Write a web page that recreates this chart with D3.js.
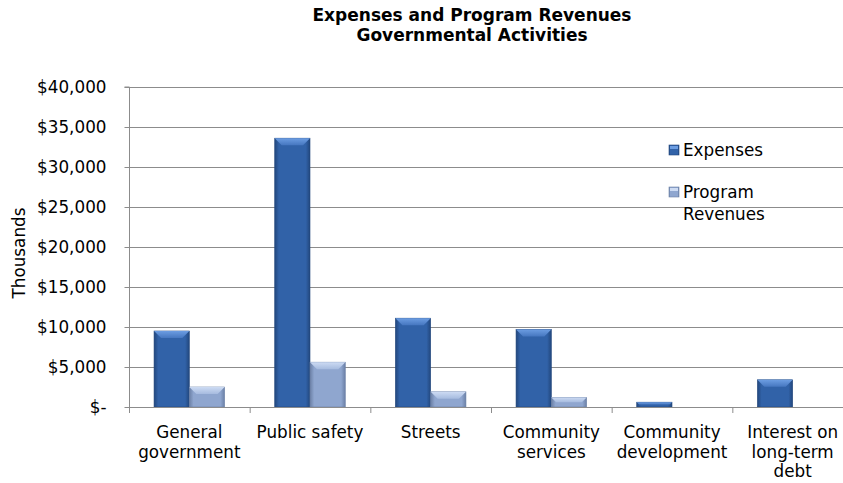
<!doctype html>
<html>
  <head>
    <meta charset="utf-8">
    <title>Expenses and Program Revenues</title>
    <style>
      body { margin: 0; background: #fff; }
      text { font-family: "DejaVu Sans", Verdana, sans-serif; fill: #000; }
    </style>
    <script src="https://cdnjs.cloudflare.com/ajax/libs/d3/7.8.5/d3.min.js"></script>
  </head>
  <body>
    <div id="chart"></div>
    <script>
      // values in thousands of dollars
      const categories = [
        ["General", "government"],
        ["Public safety"],
        ["Streets"],
        ["Community", "services"],
        ["Community", "development"],
        ["Interest on", "long-term", "debt"]
      ];
      const seriesNames = ["Expenses", "Program Revenues"];
      const expenses = [9500, 33600, 11100, 9700, 600, 3400];
      const programRevenues = [2500, 5600, 1900, 1200, 0, 0];
      const yTicks = [0, 5000, 10000, 15000, 20000, 25000, 30000, 35000, 40000];

      const width = 843, height = 483;
      const plotLeft = 129, plotRight = 853, plotTop = 87, plotBottom = 407;
      const fontSize = "16.8px";

      const svg = d3.select("#chart").append("svg")
        .attr("width", width)
        .attr("height", height);

      const defs = svg.append("defs");
      const palette = {
        "Expenses": { edge: "#22477d", mid: "#3162a8", top: "#6c9de2", topEdge: "#4677c0" },
        "Program Revenues": { edge: "#6b80a6", mid: "#8fa6cf", top: "#cddbf3", topEdge: "#a6bbdf" }
      };
      seriesNames.forEach((s, i) => {
        const g = defs.append("linearGradient").attr("id", "body" + i)
          .attr("x1", 0).attr("x2", 1).attr("y1", 0).attr("y2", 0);
        g.append("stop").attr("offset", 0).attr("stop-color", palette[s].edge);
        g.append("stop").attr("offset", 0.12).attr("stop-color", palette[s].mid);
        g.append("stop").attr("offset", 0.88).attr("stop-color", palette[s].mid);
        g.append("stop").attr("offset", 1).attr("stop-color", palette[s].edge);
        const t = defs.append("linearGradient").attr("id", "top" + i)
          .attr("x1", 0).attr("x2", 0).attr("y1", 0).attr("y2", 1);
        t.append("stop").attr("offset", 0).attr("stop-color", palette[s].top);
        t.append("stop").attr("offset", 1).attr("stop-color", palette[s].topEdge);
      });

      const x0 = d3.scaleBand().domain(d3.range(categories.length)).range([plotLeft, plotRight]);
      const x1 = d3.scaleBand().domain(seriesNames).range([0, x0.bandwidth()])
        .paddingInner(0).paddingOuter(0.71);
      const y = d3.scaleLinear().domain([0, 40000]).range([plotBottom, plotTop]);

      // title
      const title = svg.append("text")
        .attr("x", 472).attr("y", 21)
        .attr("text-anchor", "middle")
        .style("font-weight", "bold").style("font-size", "17px");
      title.append("tspan").attr("x", 472).text("Expenses and Program Revenues");
      title.append("tspan").attr("x", 472).attr("dy", 20).text("Governmental Activities");

      // gridlines
      svg.append("g").selectAll("line")
        .data(yTicks.filter(d => d > 0))
        .join("line")
        .attr("x1", plotLeft).attr("x2", width)
        .attr("y1", d => y(d) + 0.5).attr("y2", d => y(d) + 0.5)
        .attr("stroke", "#8c8c8c").attr("stroke-width", 1);

      // y axis
      const yAxis = svg.append("g")
        .attr("transform", `translate(${plotLeft + 0.5},0)`)
        .call(d3.axisLeft(y).tickValues(yTicks).tickSize(5).tickPadding(18)
          .tickFormat(d => d === 0 ? "$-" : "$" + d3.format(",")(d)));
      yAxis.selectAll("path, line").attr("stroke", "#8c8c8c");
      yAxis.select(".domain").attr("d", `M-5,${plotTop}H0V${plotBottom}`);
      yAxis.selectAll("text").style("font-size", fontSize).style("font-family", "DejaVu Sans").attr("fill", "#000");

      // y label
      svg.append("text")
        .attr("transform", `translate(25,253) rotate(-90)`)
        .attr("text-anchor", "middle")
        .style("font-size", fontSize)
        .text("Thousands");

      // bars
      const data = categories.map((c, i) => ({ i, values: [expenses[i], programRevenues[i]] }));
      const groups = svg.append("g").selectAll("g")
        .data(data)
        .join("g")
        .attr("transform", d => `translate(${x0(d.i)},0)`);

      groups.each(function(d) {
        const g = d3.select(this);
        seriesNames.forEach((s, si) => {
          const v = d.values[si];
          if (v <= 0) return;
          const bx = x1(s), bw = x1.bandwidth();
          const by = y(v), bh = y(0) - y(v);
          g.append("rect")
            .attr("x", bx).attr("y", by)
            .attr("width", bw).attr("height", bh)
            .attr("fill", `url(#body${si})`)
            .attr("stroke", palette[s].edge).attr("stroke-width", 0.6);
          const bev = Math.min(7, bh / 2);
          g.append("path")
            .attr("d", `M${bx},${by}H${bx + bw}L${bx + bw - bev},${by + bev}H${bx + bev}Z`)
            .attr("fill", `url(#top${si})`);
        });
      });

      // x axis
      svg.append("line")
        .attr("x1", plotLeft).attr("x2", width)
        .attr("y1", plotBottom + 0.5).attr("y2", plotBottom + 0.5)
        .attr("stroke", "#8c8c8c");
      svg.append("g").selectAll("line")
        .data(d3.range(categories.length + 1))
        .join("line")
        .attr("x1", i => (i < categories.length ? x0(i) : plotRight) + 0.5)
        .attr("x2", i => (i < categories.length ? x0(i) : plotRight) + 0.5)
        .attr("y1", plotBottom).attr("y2", plotBottom + 6)
        .attr("stroke", "#8c8c8c");

      const labels = svg.append("g").selectAll("text")
        .data(categories)
        .join("text")
        .attr("text-anchor", "middle")
        .style("font-size", fontSize)
        .attr("y", 438);
      labels.each(function(lines, i) {
        const t = d3.select(this);
        lines.forEach((ln, k) => {
          t.append("tspan")
            .attr("x", x0(i) + x0.bandwidth() / 2)
            .attr("dy", k === 0 ? 0 : 19.5)
            .text(ln);
        });
      });

      // legend
      const legend = svg.append("g");
      const legendRows = [
        { name: "Expenses", lines: ["Expenses"], y: 145 },
        { name: "Program Revenues", lines: ["Program", "Revenues"], y: 187 }
      ];
      legendRows.forEach((r, si) => {
        legend.append("rect")
          .attr("x", 669).attr("y", r.y)
          .attr("width", 10).attr("height", 10)
          .attr("fill", `url(#body${si})`)
          .attr("stroke", palette[r.name].edge).attr("stroke-width", 0.6);
        legend.append("rect")
          .attr("x", 670).attr("y", r.y + 1)
          .attr("width", 8).attr("height", 3)
          .attr("fill", palette[r.name].top);
        const t = legend.append("text")
          .attr("y", r.y + 11)
          .style("font-size", fontSize);
        r.lines.forEach((ln, k) => {
          t.append("tspan").attr("x", 683).attr("dy", k === 0 ? 0 : 22).text(ln);
        });
      });
    </script>
  </body>
</html>
